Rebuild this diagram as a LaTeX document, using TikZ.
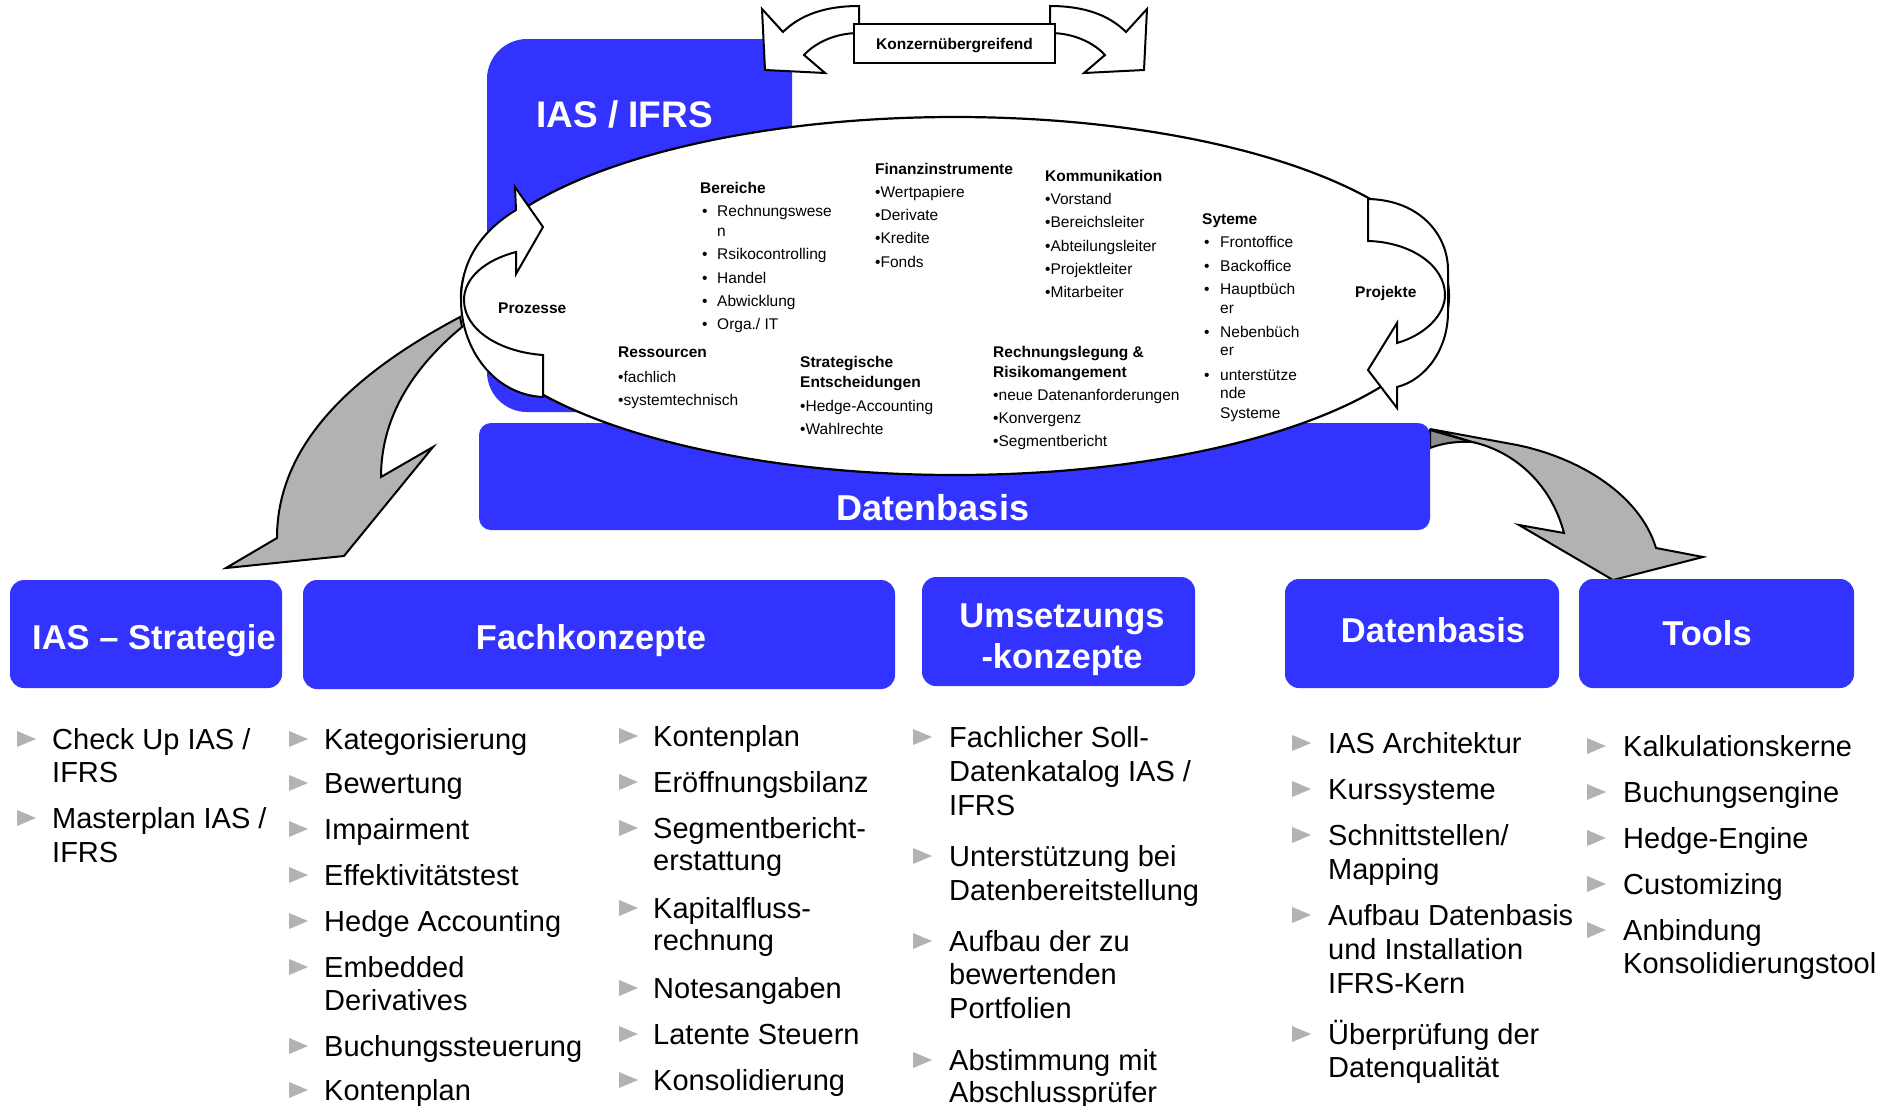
\documentclass[tikz,border=0pt]{standalone}
\usepackage{fontspec}
\setmainfont{Liberation Sans}
\usetikzlibrary{shapes.geometric}
\definecolor{boxblue}{RGB}{51,51,255}
\definecolor{arrowgray}{RGB}{178,178,178}
\definecolor{arrowdark}{RGB}{140,140,140}
\definecolor{bulletgray}{RGB}{178,178,178}

% one column of a bullet list: name, x of triangles, x of text, item baselines, lines
\newcommand\listcolumn[5]{%
  \foreach \b in {#4} {\pic at (#2,\b) {tri};}
  \foreach \b/\t [count=\i] in {#5} {\node[ltext] (#1-\i) at (#3,\b) {\t};}
}

\begin{document}
\begin{tikzpicture}[x=1pt,y=-1pt,
  outl/.style={draw=black, line width=2pt, line join=miter},
  bluebox/.style={fill=boxblue, rounded corners=14pt, inner sep=0pt},
  boxtitle/.style={anchor=base, inner sep=0pt, text=white,
    font=\fontsize{34.5}{41}\selectfont\bfseries},
  etext/.style={anchor=base west, inner sep=0pt, font=\fontsize{15.5}{19}\selectfont},
  ehead/.style={anchor=base west, inner sep=0pt, font=\fontsize{15.5}{19}\selectfont\bfseries},
  ltext/.style={anchor=base west, inner sep=0pt, font=\fontsize{29}{33}\selectfont},
  tri/.pic={\fill[bulletgray] (0,-18) -- (19,-10) -- (0,-2) -- cycle;}
]
\useasboundingbox (0,0) rectangle (1896,1106);
\fill[white] (0,0) rectangle (1896,1106);

% ---- grey transfer arrows (behind the upper block) ----
\draw[outl, fill=arrowgray] (460,317) .. controls (360,370) and (277,440) .. (277,538)
  -- (226,568) -- (344,556) -- (433,447) -- (381,477)
  .. controls (381,420) and (410,370) .. (462,327) -- cycle;
\draw[outl, fill=arrowgray] (1430,429) -- (1517,445)
  .. controls (1580,458) and (1640,495) .. (1656,548)
  -- (1703,557) -- (1613,580) -- (1519,525) -- (1564,533)
  .. controls (1550,480) and (1510,450) .. (1472,442) -- cycle;
\draw[outl, fill=arrowdark] (1430,430) -- (1472,442)
  .. controls (1455,441) and (1440,444) .. (1430,448) -- cycle;

% ---- IAS / IFRS block and data base bar ----
\fill[boxblue] (792,39) -- (527,39) .. controls (505,39) and (487,57) .. (487,79)
  -- (487,372) .. controls (487,394) and (505,412) .. (527,412) -- (792,412) -- cycle;
\node[fill=boxblue, rounded corners=12pt, minimum width=951pt, minimum height=107pt,
  inner sep=0pt] (dbbar) at (954.5,476.5) {};
\node[anchor=base west, inner sep=0pt, text=white, font=\fontsize{37}{44}\selectfont\bfseries]
  (iasifrs) at (536,127) {IAS / IFRS};
\node[anchor=base, inner sep=0pt, text=white, font=\fontsize{36}{43}\selectfont\bfseries]
  (dbtitle) at (933,520) {Datenbasis};

% ---- central ellipse ----
\node[draw, line width=2.2pt, fill=white, ellipse, minimum width=988pt, minimum height=358pt,
  inner sep=0pt] (ell) at (955,296) {};

% ---- circular arrows: Prozesse (left) and Projekte (right) ----
\draw[outl, fill=white] (543,227) -- (515,187) -- (516,210)
  .. controls (480,232) and (461,262) .. (461,300)
  .. controls (461,350) and (495,395) .. (543,397) -- (543,355)
  .. controls (500,352) and (464,330) .. (464,300)
  .. controls (464,278) and (485,260) .. (516,252) -- (516,274) -- cycle;
\draw[outl, fill=white] (1368,199) .. controls (1420,200) and (1448,235) .. (1448,270)
  -- (1448,312) .. controls (1448,350) and (1425,380) .. (1397,387)
  -- (1397,408) -- (1368,370) -- (1397,323) -- (1397,343)
  .. controls (1425,335) and (1445,315) .. (1445,295)
  .. controls (1445,265) and (1410,242) .. (1368,241) -- cycle;

% ---- double arrow on top with its label ----
\draw[outl, fill=white] (859,6) .. controls (825,6) and (800,15) .. (783,32)
  -- (762,9) -- (765,70) -- (825,73) -- (804,55)
  .. controls (815,43) and (835,33) .. (859,33) -- cycle;
\draw[outl, fill=white] (1050,6) .. controls (1084,6) and (1109,15) .. (1126,32)
  -- (1147,9) -- (1144,70) -- (1084,73) -- (1105,55)
  .. controls (1094,43) and (1074,33) .. (1050,33) -- cycle;
\node[draw, line width=2pt, fill=white, minimum width=201pt, minimum height=39pt, inner sep=0pt]
  (konz) at (954.5,43.5) {};
\node[anchor=base, inner sep=0pt, font=\fontsize{15.5}{19}\selectfont\bfseries]
  (konztext) at (954.5,49) {Konzernübergreifend};

% ---- texts inside the ellipse ----
\node[ehead] (prozesse) at (498,313) {Prozesse};
\node[ehead] (projekte) at (1355,297) {Projekte};

\node[ehead] (bereiche) at (700,193) {Bereiche};
\foreach \y/\t [count=\i] in {216/Rechnungswese, 259/Rsikocontrolling, 283/Handel,
  306/Abwicklung, 329/{Orga./ IT}} {
  \node[etext] (berdot\i) at (702,\y) {•};
  \node[etext] (ber\i) at (717,\y) {\t};
}
\node[etext] (ber1b) at (717,236) {n};

\node[ehead] (finanz) at (875,174) {Finanzinstrumente};
\foreach \y/\t [count=\i] in {197/•Wertpapiere, 220/•Derivate, 243/•Kredite, 267/•Fonds}
  {\node[etext] (fin\i) at (875,\y) {\t};}

\node[ehead] (komm) at (1045,181) {Kommunikation};
\foreach \y/\t [count=\i] in {204/•Vorstand, 227/•Bereichsleiter, 251/•Abteilungsleiter,
  274/•Projektleiter, 297/•Mitarbeiter}
  {\node[etext] (kom\i) at (1045,\y) {\t};}

\node[ehead] (syteme) at (1202,224) {Syteme};
\foreach \y [count=\i] in {247,271,294,337,380}
  {\node[etext] (sysdot\i) at (1204,\y) {•};}
\foreach \y/\t [count=\i] in {247/Frontoffice, 271/Backoffice, 294/Hauptbüch, 313/er,
  337/Nebenbüch, 355/er, 380/unterstütze, 398/nde, 418/Systeme}
  {\node[etext] (sys\i) at (1220,\y) {\t};}

\node[ehead] (ress) at (618,357) {Ressourcen};
\node[etext] (ress1) at (618,382) {•fachlich};
\node[etext] (ress2) at (618,405) {•systemtechnisch};

\node[ehead] (strat1) at (800,367) {Strategische};
\node[ehead] (strat2) at (800,387) {Entscheidungen};
\node[etext] (strat3) at (800,411) {•Hedge-Accounting};
\node[etext] (strat4) at (800,434) {•Wahlrechte};

\node[ehead] (rech1) at (993,357) {Rechnungslegung \&};
\node[ehead] (rech2) at (993,377) {Risikomangement};
\node[etext] (rech3) at (993,400) {•neue Datenanforderungen};
\node[etext] (rech4) at (993,423) {•Konvergenz};
\node[etext] (rech5) at (993,446) {•Segmentbericht};

% ---- lower row of topic boxes ----
\node[bluebox, minimum width=272pt, minimum height=108pt] (hstrat) at (146,634) {};
\node[bluebox, minimum width=592pt, minimum height=109pt] (hfach) at (599,634.5) {};
\node[bluebox, minimum width=273pt, minimum height=109pt] (humset) at (1058.5,631.5) {};
\node[bluebox, minimum width=274pt, minimum height=109pt] (hdaten) at (1422,633.5) {};
\node[bluebox, minimum width=275pt, minimum height=109pt] (htools) at (1716.5,633.5) {};
\node[boxtitle] (tstrat) at (154,649) {IAS – Strategie};
\node[boxtitle] (tfach) at (591,649) {Fachkonzepte};
\node[boxtitle] (tumset1) at (1062,627) {Umsetzungs};
\node[boxtitle] (tumset2) at (1062,668) {-konzepte};
\node[boxtitle] (tdaten) at (1433,642) {Datenbasis};
\node[boxtitle] (ttools) at (1707,645) {Tools};

% ---- bullet lists below the boxes ----
\listcolumn{lstrat}{17}{52}{749,828}
  {749/{Check Up IAS /}, 782/IFRS, 828/{Masterplan IAS /}, 862/IFRS}
\listcolumn{lfachA}{289}{324}{749,793,839,885,931,977,1056,1100}
  {749/Kategorisierung, 793/Bewertung, 839/Impairment, 885/Effektivitätstest,
   931/Hedge Accounting, 977/Embedded, 1010/Derivatives, 1056/Buchungssteuerung,
   1100/Kontenplan}
\listcolumn{lfachB}{619}{653}{746,792,838,918,998,1044,1090}
  {746/Kontenplan, 792/Eröffnungsbilanz, 838/Segmentbericht-, 870/erstattung,
   918/Kapitalfluss-, 950/rechnung, 998/Notesangaben, 1044/Latente Steuern,
   1090/Konsolidierung}
\listcolumn{lumset}{913}{949}{747,866,951,1070}
  {747/Fachlicher Soll-, 781/{Datenkatalog IAS /}, 815/IFRS, 866/Unterstützung bei,
   900/Datenbereitstellung, 951/Aufbau der zu, 984/bewertenden, 1018/Portfolien,
   1070/Abstimmung mit, 1102/Abschlussprüfer}
\listcolumn{ldaten}{1292}{1328}{753,799,845,925,1044}
  {753/IAS Architektur, 799/Kurssysteme, 845/{Schnittstellen/}, 879/Mapping,
   925/Aufbau Datenbasis, 959/und Installation, 993/IFRS-Kern,
   1044/Überprüfung der, 1077/Datenqualität}
\listcolumn{ltools}{1587}{1623}{756,802,848,894,940}
  {756/Kalkulationskerne, 802/Buchungsengine, 848/Hedge-Engine, 894/Customizing,
   940/Anbindung, 973/Konsolidierungstool}
\end{tikzpicture}
\end{document}
